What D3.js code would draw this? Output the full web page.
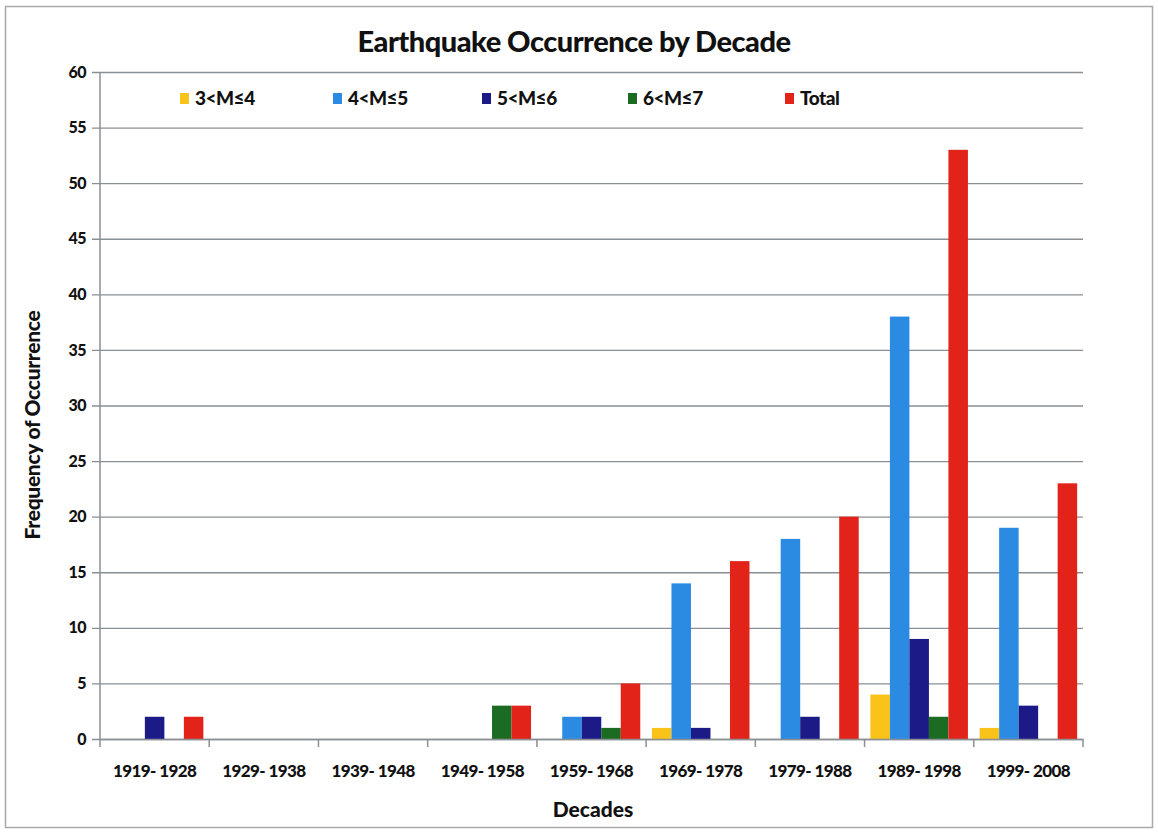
<!DOCTYPE html>
<html>
<head>
<meta charset="utf-8">
<script src="https://cdn.jsdelivr.net/npm/d3@7/dist/d3.min.js"></script>
<style>
  html, body { margin: 0; padding: 0; background: #fff; }
  svg { display: block; }
  text { font-family: "Lato", "Open Sans", sans-serif; font-weight: 900; fill: #111; }
</style>
</head>
<body>
<svg id="chart" width="1158" height="832"></svg>
<script>
// Decade categories
const decades = ["1919- 1928", "1929- 1938", "1939- 1948", "1949- 1958", "1959- 1968",
                 "1969- 1978", "1979- 1988", "1989- 1998", "1999- 2008"];

// Earthquake counts per magnitude class, one value per decade
const m3to4 = [0, 0, 0, 0, 0, 1, 0, 4, 1];
const m4to5 = [0, 0, 0, 0, 2, 14, 18, 38, 19];
const m5to6 = [2, 0, 0, 0, 2, 1, 2, 9, 3];
const m6to7 = [0, 0, 0, 3, 1, 0, 0, 2, 0];
const total = [2, 0, 0, 3, 5, 16, 20, 53, 23];

const seriesNames = ["3<M\u22644", "4<M\u22645", "5<M\u22646", "6<M\u22647", "Total"];
const seriesValues = [m3to4, m4to5, m5to6, m6to7, total];
const seriesColors = ["#f9c31a", "#2b8be3", "#1c1a86", "#1b6b22", "#e2231a"];

const yTicks = [0, 5, 10, 15, 20, 25, 30, 35, 40, 45, 50, 55, 60];

const svg = d3.select("#chart");
const W = 1158, H = 832;
const plot = { left: 100, right: 1083, top: 72, bottom: 739 };

// outer frame
svg.append("rect")
  .attr("x", 5.5).attr("y", 6.5).attr("width", W - 11).attr("height", H - 11)
  .attr("fill", "#fff").attr("stroke", "#a9a9a9").attr("stroke-width", 1.5);

const x = d3.scaleBand().domain(decades).range([plot.left, plot.right]).paddingInner(0).paddingOuter(0);
const inner = d3.scaleBand().domain(d3.range(seriesNames.length))
  .range([0, x.bandwidth()]).paddingInner(0).paddingOuter(0.3);
const y = d3.scaleLinear().domain([0, 60]).range([plot.bottom, plot.top]);

// gridlines + y axis
const yAxis = d3.axisLeft(y).tickValues(yTicks).tickSize(-(plot.right - plot.left)).tickPadding(14);
const gy = svg.append("g").attr("transform", `translate(${plot.left},0)`).call(yAxis);
gy.select(".domain").remove();
gy.selectAll(".tick line").attr("stroke", "#8a8f94").attr("stroke-width", 1.3).attr("x1", -8);
gy.selectAll(".tick text").attr("font-size", 16).attr("font-family", "Lato, sans-serif")
  .attr("font-weight", 900).attr("fill", "#111").attr("letter-spacing", "-0.5");

// bars
const groups = svg.append("g").selectAll("g").data(decades).join("g")
  .attr("transform", d => `translate(${x(d)},0)`);
groups.selectAll("rect")
  .data((d, i) => seriesValues.map((vals, s) => ({ s, v: vals[i] })))
  .join("rect")
  .attr("x", d => inner(d.s))
  .attr("width", inner.bandwidth())
  .attr("y", d => y(d.v))
  .attr("height", d => y(0) - y(d.v))
  .attr("fill", d => seriesColors[d.s]);

// y axis line
svg.append("line")
  .attr("x1", plot.left).attr("x2", plot.left)
  .attr("y1", plot.top).attr("y2", plot.bottom + 8)
  .attr("stroke", "#8a8f94").attr("stroke-width", 1.5);

// x axis
const xAxis = d3.axisBottom(x).tickSize(0).tickPadding(26);
const gx = svg.append("g").attr("transform", `translate(0,${plot.bottom})`).call(xAxis);
gx.select(".domain").attr("stroke", "#8a8f94").attr("stroke-width", 1.5);
gx.selectAll(".tick text").attr("font-size", 17).attr("font-family", "Lato, sans-serif")
  .attr("font-weight", 900).attr("fill", "#111").attr("letter-spacing", "-0.6");
// category boundary ticks
svg.append("g").selectAll("line")
  .data(decades.map(d => x(d) + x.bandwidth()))
  .join("line")
  .attr("x1", d => d).attr("x2", d => d)
  .attr("y1", plot.bottom).attr("y2", plot.bottom + 8)
  .attr("stroke", "#8a8f94").attr("stroke-width", 1.5);

// title
svg.append("text")
  .attr("x", 574).attr("y", 52).attr("text-anchor", "middle")
  .attr("font-size", 29).attr("letter-spacing", "-0.5").text("Earthquake Occurrence by Decade");

// axis titles
svg.append("text")
  .attr("x", 593).attr("y", 817).attr("text-anchor", "middle")
  .attr("font-size", 21).text("Decades");
svg.append("text")
  .attr("transform", "translate(40,425) rotate(-90)")
  .attr("text-anchor", "middle")
  .attr("font-size", 21).attr("letter-spacing", "-0.3").text("Frequency of Occurrence");

// legend
const legendX = [180, 333, 482, 628, 785];
const leg = svg.append("g").selectAll("g").data(seriesNames).join("g")
  .attr("transform", (d, i) => `translate(${legendX[i]},98)`);
leg.append("rect").attr("x", 0).attr("y", -5).attr("width", 9).attr("height", 11)
  .attr("fill", (d, i) => seriesColors[i]);
leg.append("text").attr("x", 15).attr("y", 7).attr("font-size", 19).attr("letter-spacing", "-0.5")
  .text(d => d);
</script>
</body>
</html>
